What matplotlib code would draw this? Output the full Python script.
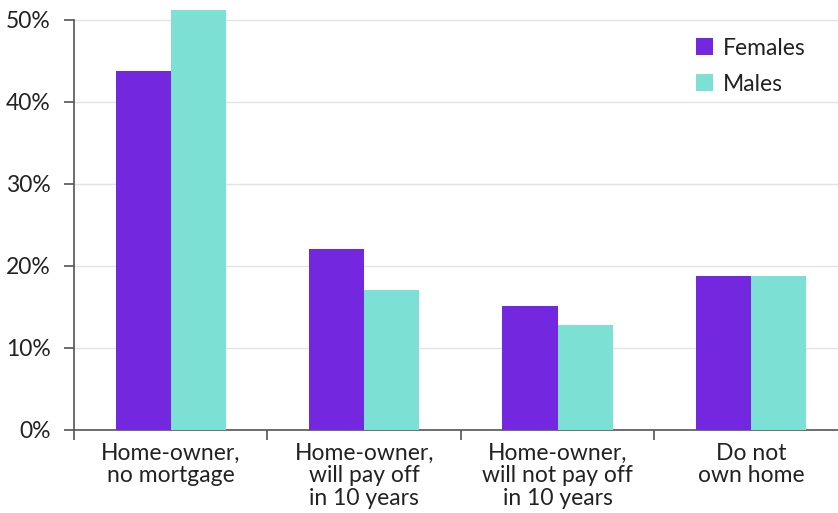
import numpy as np
import matplotlib.pyplot as plt

categories = ["Home-owner,\nno mortgage", "Home-owner,\nwill pay off\nin 10 years",
              "Home-owner,\nwill not pay off\nin 10 years", "Do not\nown home"]
females = [43.8, 22.0, 15.1, 18.8]
males = [51.2, 17.0, 12.8, 18.8]
yticks = [0, 10, 20, 30, 40, 50]

purple = "#7327DF"
teal = "#7DE0D4"
txt = "#222222"

plt.rcParams['font.family'] = ['Lato', 'DejaVu Sans']

fig = plt.figure(figsize=(8.38, 5.13), dpi=100)
ax = fig.add_axes([74/838, 1-430/513, 1-74/838, 430/513])

x = np.arange(len(categories))
w = 0.285
ax.bar(x - w/2, females, w, color=purple, label="Females", zorder=3)
ax.bar(x + w/2, males, w, color=teal, label="Males", zorder=3)

ax.set_xlim(-0.5, 3.45)
ax.set_ylim(0, 52.4)
ax.set_yticks(yticks)
ax.set_yticklabels([f"{v}%" for v in yticks], fontsize=16.5, color=txt)
ax.yaxis.grid(True, color="#e3e3e3", lw=1, zorder=0)
ax.set_axisbelow(True)

ax.set_xticks(x)
ax.set_xticklabels(categories, fontsize=16.5, color=txt, linespacing=1.1)
ax.tick_params(axis='x', length=0, pad=9)
ax.set_xticks(np.arange(-0.5, 3, 1), minor=True)
ax.tick_params(axis='x', which='minor', length=7, color="#555555", width=1.2)
ax.tick_params(axis='y', length=7, color="#555555", width=1.2, pad=10)

for s in ['top', 'right']:
    ax.spines[s].set_visible(False)
for s in ['left', 'bottom']:
    ax.spines[s].set_color("#555555")
    ax.spines[s].set_linewidth(1.2)
ax.spines['left'].set_bounds(0, 50)

leg = ax.legend(loc="upper right", bbox_to_anchor=(0.985, 0.96), frameon=False,
                fontsize=16.5, handlelength=0.75, handleheight=0.75, labelspacing=0.65,
                handletextpad=0.45)
for t in leg.get_texts():
    t.set_color(txt)

fig.savefig("out.png", dpi=100)
